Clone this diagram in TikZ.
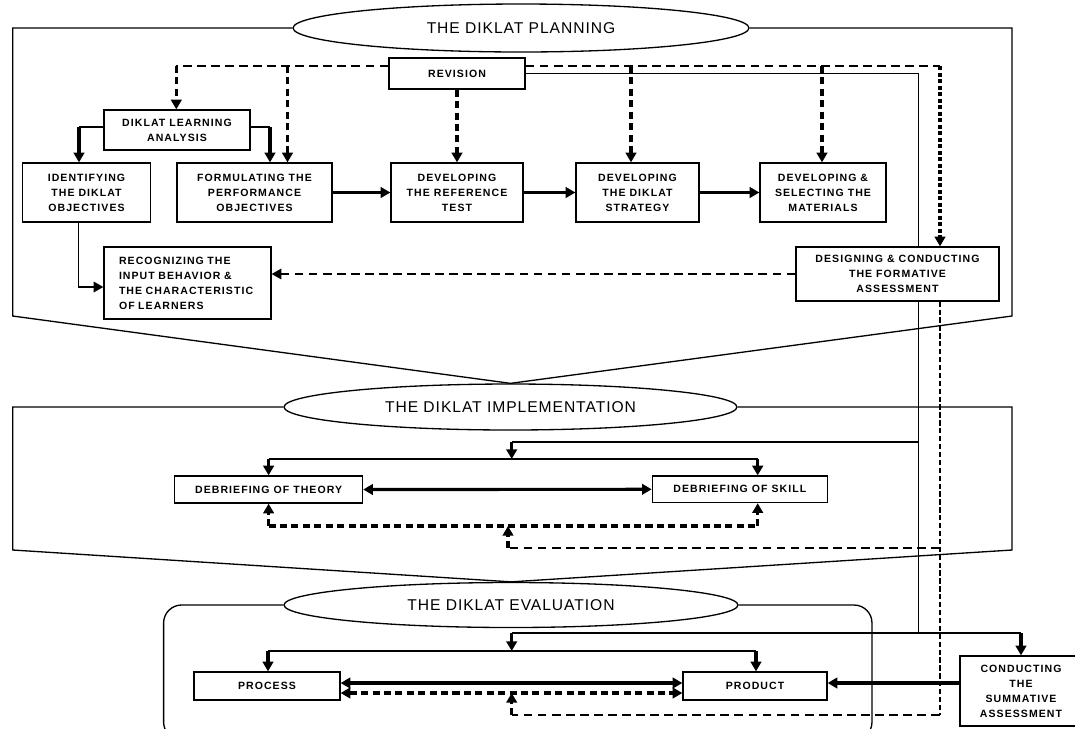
\documentclass[tikz,border=0pt]{standalone}
\usepackage{fontspec}
\setmainfont{Liberation Sans}
\newfontfamily\boxfont[LetterSpace=10]{Liberation Sans}
\newfontfamily\titlefont[LetterSpace=6]{Liberation Sans}
\usetikzlibrary{shapes.geometric,arrows.meta}
\pgfdeclarelayer{bg}
\pgfsetlayers{bg,main}
\tikzset{
 box/.style={draw, line width=0.75pt, fill=white, inner sep=0pt, align=center, font=\boxfont\bfseries\fontsize{6}{8.5}\selectfont},
 ttl/.style={draw, ellipse, line width=0.75pt, fill=white, inner sep=0pt, font=\titlefont\fontsize{8.9}{10}\selectfont},
 thinline/.style={line width=0.75pt},
 frame/.style={line width=0.75pt},
 tip/.style={-{Triangle[length=5.5pt,width=6pt]}},
 thk/.style={line width=1.8pt, tip},
 dbl/.style={line width=1.8pt, {Triangle[length=5.5pt,width=6pt]}-{Triangle[length=5.5pt,width=6pt]}},
 dthin/.style={line width=0.75pt, dash pattern=on 5pt off 3pt},
 dthkline/.style={line width=1.8pt, dash pattern=on 4pt off 2.5pt},
 dthk/.style={dthkline, tip},
 dbldash/.style={dthkline, {Triangle[length=5.5pt,width=6pt]}-{Triangle[length=5.5pt,width=6pt]}},
}
\begin{document}
\begin{tikzpicture}[x=0.02cm,y=-0.02cm]
\useasboundingbox (0,0) rectangle (1075,728);
% title ellipses
\node[ttl, minimum width=9.12cm, minimum height=0.96cm] (plan) at (521,28) {THE DIKLAT PLANNING};
\node[ttl, minimum width=9.06cm, minimum height=0.92cm] (impl) at (510.5,407) {THE DIKLAT IMPLEMENTATION};
\node[ttl, minimum width=9.08cm, minimum height=0.9cm] (eval) at (511,605) {THE DIKLAT EVALUATION};
% frames
\draw[frame] (plan.west) -- (12.7,28) -- (12.7,316) -- (impl.north) -- (1012,316) -- (1012,28) -- (plan.east);
\draw[frame] (impl.west) -- (12.7,407) -- (12.7,550) -- (eval.north) -- (1012,550) -- (1012,407) -- (impl.east);
\draw[frame, rounded corners=0.36cm] (eval.west) -- (163.6,605) -- (163.6,740) -- (872,740) -- (872,605) -- (eval.east);
% boxes
\node[box, minimum width=2.72cm, minimum height=0.62cm] (rev) at (457,73.5) {REVISION};
\node[box, minimum width=2.92cm, minimum height=0.8cm] (dla) at (177,130) {DIKLAT LEARNING\\ANALYSIS};
\node[box, minimum width=2.56cm, minimum height=1.18cm] (ident) at (86.5,192.5) {IDENTIFYING\\THE DIKLAT\\OBJECTIVES};
\node[box, minimum width=3.1cm, minimum height=1.18cm] (form) at (254.5,192.5) {FORMULATING THE\\PERFORMANCE\\OBJECTIVES};
\node[box, minimum width=2.64cm, minimum height=1.18cm] (ref) at (457,192.5) {DEVELOPING\\THE REFERENCE\\TEST};
\node[box, minimum width=2.46cm, minimum height=1.18cm] (strat) at (637.5,192.5) {DEVELOPING\\THE DIKLAT\\STRATEGY};
\node[box, minimum width=2.52cm, minimum height=1.18cm] (mat) at (823,192.5) {DEVELOPING \&\\SELECTING THE\\MATERIALS};
\node[box, minimum width=3.34cm, minimum height=1.44cm, text width=2.74cm, align=left] (recog) at (187.5,283) {RECOGNIZING THE\\INPUT BEHAVIOR \&\\THE CHARACTERISTIC\\OF LEARNERS};
\node[box, minimum width=4.06cm, minimum height=1.08cm] (des) at (897.5,274) {DESIGNING \& CONDUCTING\\THE FORMATIVE\\ASSESSMENT};
\node[box, minimum width=3.76cm, minimum height=0.54cm] (theory) at (268.6,489.5) {DEBRIEFING OF THEORY};
\node[box, minimum width=3.5cm, minimum height=0.53cm] (skill) at (739.8,489.3) {DEBRIEFING OF SKILL};
\node[box, minimum width=2.92cm, minimum height=0.56cm] (proc) at (267,686) {PROCESS};
\node[box, minimum width=2.88cm, minimum height=0.56cm] (prod) at (755,686) {PRODUCT};
\node[box, minimum width=2.44cm, minimum height=1.4cm] (cond) at (1021,691) {CONDUCTING\\THE\\SUMMATIVE\\ASSESSMENT};
% coordinates
\coordinate (rvL) at (176.3,66);
\coordinate (rvF) at (287.5,66);
\coordinate (rvS) at (631,66);
\coordinate (rvM) at (822,66);
\coordinate (rvR) at (940,66);
\coordinate (mainT) at (918.6,73.5);
\coordinate (mainI) at (918.6,442);
\coordinate (mainE) at (918.6,633);
\coordinate (dl1) at (79,127);
\coordinate (dl2) at (270,127);
\coordinate (ir) at (78.5,287);
\coordinate (f1) at (940,548);
\coordinate (f2) at (940,715);
\coordinate (f3) at (508,548);
\coordinate (f4) at (511.7,715);
\coordinate (i1) at (511.7,442);
\coordinate (i2) at (511.7,459);
\coordinate (tn) at (268.6,459);
\coordinate (sn) at (757.7,459);
\coordinate (td) at (268.6,526);
\coordinate (sd) at (757.7,526);
\coordinate (e1) at (511.7,633);
\coordinate (e2) at (1021,633);
\coordinate (e3) at (511.7,651);
\coordinate (pn) at (268,651);
\coordinate (qn) at (756,651);
\coordinate (ps) at (0,683);
\coordinate (pd) at (0,693);
% main solid line behind the formative box
\begin{pgfonlayer}{bg}
\draw[thinline] (rev.east) -- (mainT) -- (mainE);
\end{pgfonlayer}
% revision dashed links
\draw[dthin] (rev.west|-rvL) -- (rvL);
\draw[dthk] (rvL) -- (rvL|-dla.north);
\draw[dthk] (rvF) -- (rvF|-form.north);
\draw[dthk] (rev.south) -- (ref.north);
\draw[dthin] (rev.east|-rvR) -- (rvR);
\draw[dthk] (rvS) -- (rvS|-strat.north);
\draw[dthk] (rvM) -- (rvM|-mat.north);
\draw[dthk, dash pattern=on 2.5pt off 1.2pt] (rvR) -- (rvR|-des.north);
% learning analysis
\draw[thinline] (dla.west|-dl1) -- (dl1);
\draw[thk] (dl1) -- (dl1|-ident.north);
\draw[thinline] (dla.east|-dl2) -- (dl2);
\draw[thk] (dl2) -- (dl2|-form.north);
\draw[thinline, tip] (ident.south-|ir) -- (ir) -- (recog.west|-ir);
\draw[thk] (form.east) -- (ref.west);
\draw[thk] (ref.east) -- (strat.west);
\draw[thk] (strat.east) -- (mat.west);
\draw[dthin, tip] (des.west) -- (recog.east|-des.west);
% formative feedback
\draw[line width=1.1pt, dash pattern=on 3pt off 1.5pt] (des.south-|f1) -- (f2);
\draw[dthin] (f1) -- (f3);
\draw[dthk] (f3) -- (f3|-td);
\draw[dthin] (f2) -- (f4);
\draw[dthk] (f4) -- (f4|-pd);
% implementation
\draw[thinline] (mainI) -- (i1);
\draw[thk] (i1) -- (i2);
\draw[thinline] (tn) -- (sn);
\draw[thk] (tn) -- (theory.north);
\draw[thk] (sn) -- (sn|-skill.north);
\draw[dbl] (theory.east) -- (skill.west);
\draw[dthkline] (td) -- (sd);
\draw[dthk] (td) -- (theory.south);
\draw[dthk] (sd) -- (sd|-skill.south);
% evaluation
\draw[thinline] (e1) -- (e2);
\draw[thk] (e1) -- (e3);
\draw[thk] (e2) -- (cond.north);
\draw[thinline] (pn) -- (qn);
\draw[thk] (pn) -- (pn|-proc.north);
\draw[thk] (qn) -- (qn|-prod.north);
\draw[dbl] (proc.east|-ps) -- (prod.west|-ps);
\draw[dbldash] (proc.east|-pd) -- (prod.west|-pd);
\draw[thk] (cond.west|-ps) -- (prod.east|-ps);
\end{tikzpicture}
\end{document}
